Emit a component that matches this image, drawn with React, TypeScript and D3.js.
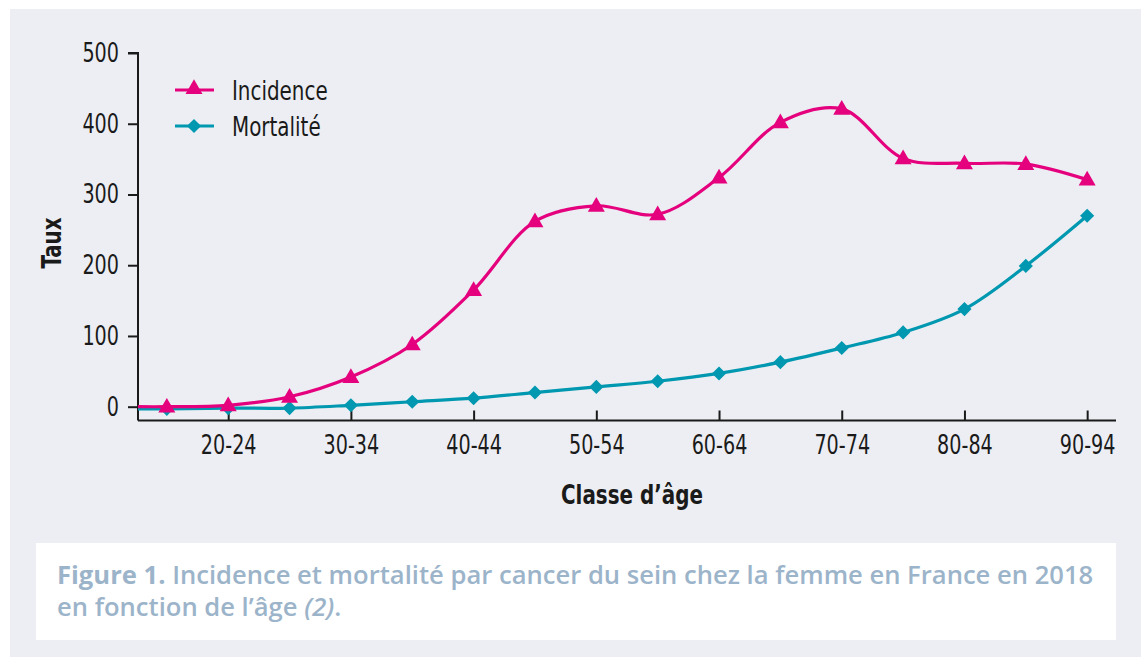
import React, {useRef, useEffect} from 'react';
import * as d3 from 'd3';

// tranches d'âge (16 classes), seules les paires sont étiquetées
const ageClasses = ['15-19', '20-24', '25-29', '30-34', '35-39', '40-44', '45-49', '50-54',
  '55-59', '60-64', '65-69', '70-74', '75-79', '80-84', '85-89', '90-94'];
const tickLabels = ['20-24', '30-34', '40-44', '50-54', '60-64', '70-74', '80-84', '90-94'];

const incidence = [0, 2, 14, 42, 88, 165, 262, 284, 272, 324, 402, 421, 351, 344, 343, 321];
const mortalite = [-3, -2, -2, 2, 7, 12, 20, 28, 36, 47, 63, 83, 105, 138, 199, 270];

const yTicks = [0, 100, 200, 300, 400, 500];

const PINK = '#e5007d';
const TEAL = '#0098b0';
const AXIS_FONT = '"DejaVu Sans Condensed", "Liberation Sans Narrow", sans-serif';
const SQUEEZE = 0.82; // police condensée étroite

export default function App() {
  const canvas = useRef<HTMLDivElement>(null);

  const width = 1143;
  const height = 657;

  useEffect(() => {
    const root = d3.select(canvas.current);
    root.selectAll('*').remove();

    const svg = root.append('svg')
      .attr('width', width)
      .attr('height', height)
      .style('position', 'absolute')
      .style('left', 0)
      .style('top', 0)
      .style('display', 'block');

    svg.append('rect').attr('width', width).attr('height', height).attr('fill', '#ffffff');
    svg.append('rect')
      .attr('x', 10).attr('y', 9)
      .attr('width', 1131).attr('height', height - 9)
      .attr('fill', '#eceef3');

    const xScale = d3.scalePoint<string>()
      .domain(ageClasses)
      .range([138, 1116])
      .padding(0.47);

    const yScale = d3.scaleLinear()
      .domain([0, 500])
      .range([406.7, 53]);

    // axe Y
    const yAxis = svg.append('g')
      .attr('transform', 'translate(138,0)')
      .call(d3.axisLeft(yScale).tickValues(yTicks).tickSize(10).tickPadding(8).tickFormat(d3.format('d')));
    yAxis.select('.domain').attr('d', `M-10,${yScale(500)}H0V420.5`);

    // axe X
    const xAxis = svg.append('g')
      .attr('transform', 'translate(0,420.5)')
      .call(d3.axisBottom(xScale).tickValues(tickLabels).tickSize(10).tickPadding(5));
    xAxis.select('.domain').attr('d', 'M138,0H1116');
    xAxis.selectAll('.tick line').attr('y1', -10).attr('y2', 0);

    [yAxis, xAxis].forEach(ax => {
      ax.selectAll('path, line').attr('stroke', '#1a1a1a').attr('stroke-width', 2);
      ax.selectAll('text')
        .attr('fill', '#1a1a1a')
        .style('font-family', AXIS_FONT)
        .style('font-size', '26px');
    });
    xAxis.selectAll('text').attr('dy', '0.71em').attr('transform', `scale(${SQUEEZE},1)`);
    yAxis.selectAll('text').attr('x', -19 / SQUEEZE).attr('transform', `scale(${SQUEEZE},1)`);

    // titres d'axes
    svg.append('text')
      .attr('transform', `translate(61,243) rotate(-90) scale(${SQUEEZE},1)`)
      .attr('text-anchor', 'middle')
      .style('font-family', AXIS_FONT)
      .style('font-size', '27px')
      .style('font-weight', 'bold')
      .attr('fill', '#1a1a1a')
      .text('Taux');

    svg.append('text')
      .attr('transform', `translate(632,504) scale(${SQUEEZE},1)`)
      .attr('text-anchor', 'middle')
      .style('font-family', AXIS_FONT)
      .style('font-size', '27px')
      .style('font-weight', 'bold')
      .attr('fill', '#1a1a1a')
      .text('Classe d’âge');

    const line = d3.line<[number, number]>()
      .x(d => d[0])
      .y(d => d[1])
      .curve(d3.curveCatmullRom.alpha(0.5));

    const triangle = d3.symbol().type(d3.symbolTriangle).size(125);
    const diamond = d3.symbol().type(d3.symbolSquare).size(100);

    const drawSeries = (values: number[], color: string, kind: 'tri' | 'dia') => {
      const pts: [number, number][] = values.map((v, i) => [xScale(ageClasses[i]) as number, yScale(v)]);
      // la courbe part de l'axe Y
      const lead: [number, number] = [138, pts[0][1]];
      svg.append('path')
        .attr('d', line([lead, ...pts]))
        .attr('fill', 'none')
        .attr('stroke', color)
        .attr('stroke-width', 3.2);
      svg.append('g').selectAll('path')
        .data(pts)
        .enter()
        .append('path')
          .attr('d', kind === 'tri' ? triangle() : diamond())
          .attr('transform', d => kind === 'tri'
            ? `translate(${d[0]},${d[1] + 1})`
            : `translate(${d[0]},${d[1]}) rotate(45)`)
          .attr('fill', color);
    };

    drawSeries(mortalite, TEAL, 'dia');
    drawSeries(incidence, PINK, 'tri');

    // légende
    const legend = [
      {label: 'Incidence', color: PINK, kind: 'tri', y: 90},
      {label: 'Mortalité', color: TEAL, kind: 'dia', y: 126},
    ];
    legend.forEach(l => {
      svg.append('line')
        .attr('x1', 175).attr('x2', 214)
        .attr('y1', l.y).attr('y2', l.y)
        .attr('stroke', l.color).attr('stroke-width', 3);
      svg.append('path')
        .attr('d', l.kind === 'tri' ? triangle() : diamond())
        .attr('transform', l.kind === 'tri' ? `translate(194,${l.y - 1})` : `translate(194,${l.y}) rotate(45)`)
        .attr('fill', l.color);
      svg.append('text')
        .attr('transform', `translate(232,${l.y + 10}) scale(${SQUEEZE},1)`)
        .style('font-family', AXIS_FONT)
        .style('font-size', '27px')
        .attr('fill', '#1a1a1a')
        .text(l.label);
    });

    // légende de figure
    svg.append('rect')
      .attr('x', 36).attr('y', 543)
      .attr('width', 1080).attr('height', 97)
      .attr('fill', '#ffffff');

    const caption = svg.append('text')
      .style('font-family', '"Open Sans", "Noto Sans", sans-serif')
      .style('font-size', '25.6px')
      .style('font-weight', 600)
      .attr('fill', '#9cb4ca');
    const l1 = caption.append('tspan').attr('x', 57).attr('y', 584);
    l1.append('tspan').style('font-weight', 'bold').text('Figure 1. ');
    l1.append('tspan').text('Incidence et mortalité par cancer du sein chez la femme en France en 2018');
    const l2 = caption.append('tspan').attr('x', 57).attr('y', 616);
    l2.append('tspan').text('en fonction de l’âge ');
    l2.append('tspan').style('font-style', 'italic').text('(2)');
    l2.append('tspan').text('.');
  });

  return <div className="d3-canvas" ref={canvas}></div>;
}
